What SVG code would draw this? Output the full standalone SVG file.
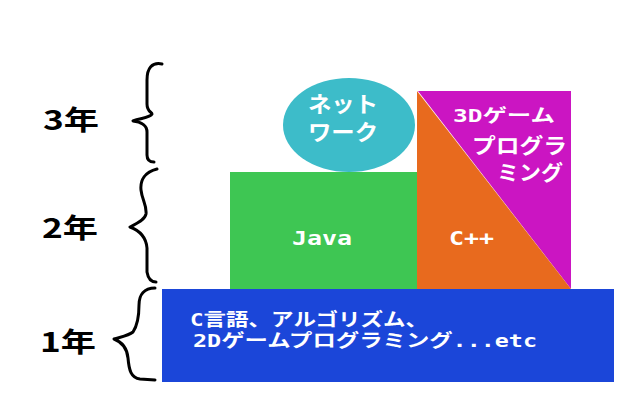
<svg xmlns="http://www.w3.org/2000/svg" width="640" height="400" viewBox="0 0 640 400">
<style>
.yr{font-family:"Noto Sans CJK JP","Liberation Sans",sans-serif;font-size:27px;font-weight:bold;fill:#000}
.lb{font-family:"DejaVu Sans Mono","Noto Sans CJK JP",monospace;font-weight:bold;fill:#fff}
.br{fill:none;stroke:#000;stroke-width:3;stroke-linecap:round;stroke-linejoin:round}
</style>
<rect width="640" height="400" fill="#fff"/>
<g id="year3"><text class="yr" x="43" y="130" textLength="56" lengthAdjust="spacingAndGlyphs">3年</text></g>
<g id="year2"><text class="yr" x="42" y="238" textLength="56" lengthAdjust="spacingAndGlyphs">2年</text></g>
<g id="year1"><text class="yr" x="40" y="352" textLength="56" lengthAdjust="spacingAndGlyphs">1年</text></g>
<g id="connectors">
<path class="br" d="M162,64 C152,62 147,68 147,80 L147,104 C147,112 152,112 152,114 C150,118 140,118 133,121 C140,122 147,124 147,132 L147,155 C147,160 150,162 154,162"/>
<path class="br" d="M157,169 C145,172 140,180 141,190 C142,200 147,205 146,214 C145,220 136,224 130,227 C138,230 146,236 147,248 L147,272 C148,278 151,282 156,282"/>
<path class="br" d="M155,288 C144,288 139,295 139,305 C139,318 137,326 133,332 C128,336 120,337 114,339 C122,342 127,348 128,358 C129,370 131,378 140,379 L155,380"/>
</g>
<g id="node-1nen">
<rect x="162" y="289" width="452" height="93" fill="#1b46d9"/>
<text class="lb" x="190" y="326" font-size="18" textLength="238" lengthAdjust="spacingAndGlyphs">C言語、アルゴリズム、</text>
<text class="lb" x="193" y="347" font-size="18" textLength="344" lengthAdjust="spacingAndGlyphs">2Dゲームプログラミング...etc</text>
</g>
<g id="node-java">
<rect x="230" y="172" width="187" height="117" fill="#3ec653"/>
<text class="lb" x="292" y="245" font-size="20" textLength="60" lengthAdjust="spacingAndGlyphs">Java</text>
</g>
<g id="node-3d">
<polygon points="418,91 571,91 571,289" fill="#cb15c2"/>
<text class="lb" x="453" y="122" font-size="18" textLength="102" lengthAdjust="spacingAndGlyphs">3Dゲーム</text>
<text class="lb" x="472" y="153" font-size="21" textLength="95" lengthAdjust="spacingAndGlyphs">プログラ</text>
<text class="lb" x="497" y="180" font-size="21" textLength="66" lengthAdjust="spacingAndGlyphs">ミング</text>
</g>
<g id="node-cpp">
<polygon points="417,91 571,289 417,289" fill="#e86a1e"/>
<text class="lb" x="449" y="245" font-size="20" textLength="45" lengthAdjust="spacingAndGlyphs">C++</text>
</g>
<g id="node-network">
<ellipse cx="349" cy="125" rx="66" ry="47" fill="#3dbcc9"/>
<text class="lb" x="308" y="112" font-size="22" textLength="70" lengthAdjust="spacingAndGlyphs">ネット</text>
<text class="lb" x="308" y="140" font-size="22" textLength="70" lengthAdjust="spacingAndGlyphs">ワーク</text>
</g>
</svg>
